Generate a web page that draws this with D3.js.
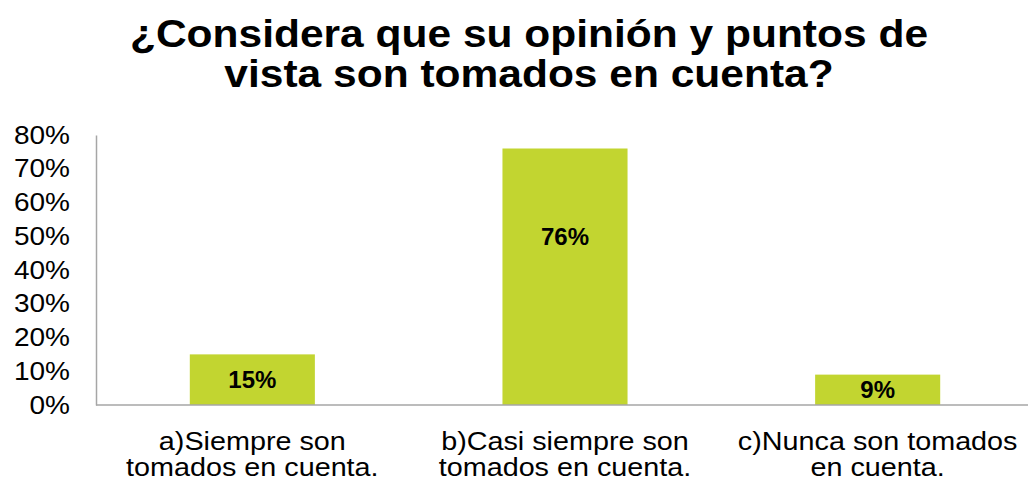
<!DOCTYPE html>
<html>
<head>
<meta charset="utf-8">
<script src="https://cdn.jsdelivr.net/npm/d3@7"></script>
<style>
  body { margin: 0; background: #fff; }
  svg { display: block; font-family: "Liberation Sans", Arial, sans-serif; }
</style>
</head>
<body>
<div id="chart"></div>
<script>
// chart data
const titleLines = ["¿Considera que su opinión y puntos de", "vista son tomados en cuenta?"];
const categories = [
  ["a)Siempre son", "tomados en cuenta."],
  ["b)Casi siempre son", "tomados en cuenta."],
  ["c)Nunca son tomados", "en cuenta."]
];
const values = [15, 76, 9];
// where each data label sits, in % units
const labelAt = [7.5, 50, 4.5];
const yTicks = [0, 10, 20, 30, 40, 50, 60, 70, 80];

const width = 1028, height = 485;
const barColor = "#c2d530";
const axisColor = "#a6a6a6";

const margin = { top: 135, right: -6, bottom: 80, left: 96 };

const svg = d3.select("#chart").append("svg")
  .attr("width", width)
  .attr("height", height);

const x = d3.scaleBand()
  .domain(d3.range(values.length))
  .range([margin.left, width - margin.right])
  .paddingInner(0.6)
  .paddingOuter(0.3);

const y = d3.scaleLinear()
  .domain([0, 80])
  .range([height - margin.bottom, margin.top]);

// title
const title = svg.append("g")
  .attr("transform", `translate(${width / 2 + 15},0)`);
title.selectAll("text")
  .data(titleLines)
  .enter().append("text")
  .attr("transform", (d, i) => `translate(0,${47 + i * 39.5}) scale(1.09,1)`)
  .attr("text-anchor", "middle")
  .attr("font-size", 39)
  .attr("font-weight", "bold")
  .attr("fill", "#000")
  .text(d => d);

// y axis
const yAxis = svg.append("g")
  .attr("transform", `translate(${margin.left},0)`)
  .call(d3.axisLeft(y)
    .tickValues(yTicks)
    .tickSize(0)
    .tickFormat(d => d + "%"));
yAxis.select(".domain").attr("stroke", axisColor).attr("stroke-width", 1.5);
yAxis.selectAll(".tick text")
  .attr("font-family", "Liberation Sans, Arial, sans-serif")
  .attr("font-size", 25)
  .attr("fill", "#000")
  .attr("x", -26 / 1.12)
  .attr("transform", "scale(1.12,1)");

// bars
svg.selectAll(".bar")
  .data(values)
  .enter().append("rect")
  .attr("class", "bar")
  .attr("x", (d, i) => x(i))
  .attr("y", d => y(d))
  .attr("width", x.bandwidth())
  .attr("height", d => y(0) - y(d))
  .attr("fill", barColor);

// x axis line
svg.append("line")
  .attr("x1", margin.left)
  .attr("x2", width)
  .attr("y1", y(0))
  .attr("y2", y(0))
  .attr("stroke", axisColor)
  .attr("stroke-width", 1.5);

// data labels
svg.selectAll(".val")
  .data(values)
  .enter().append("text")
  .attr("class", "val")
  .attr("x", (d, i) => x(i) + x.bandwidth() / 2)
  .attr("y", (d, i) => y(labelAt[i]))
  .attr("dy", "0.35em")
  .attr("text-anchor", "middle")
  .attr("font-size", 24)
  .attr("font-weight", "bold")
  .attr("fill", "#000")
  .text(d => d + "%");

// category labels
const cat = svg.selectAll(".cat")
  .data(categories)
  .enter().append("g")
  .attr("class", "cat")
  .attr("transform", (d, i) => `translate(${x(i) + x.bandwidth() / 2},0)`);
cat.selectAll("text")
  .data(d => d)
  .enter().append("text")
  .attr("transform", (d, i) => `translate(0,${450 + i * 26}) scale(1.15,1)`)
  .attr("text-anchor", "middle")
  .attr("font-size", 25)
  .attr("fill", "#000")
  .text(d => d);
</script>
</body>
</html>
